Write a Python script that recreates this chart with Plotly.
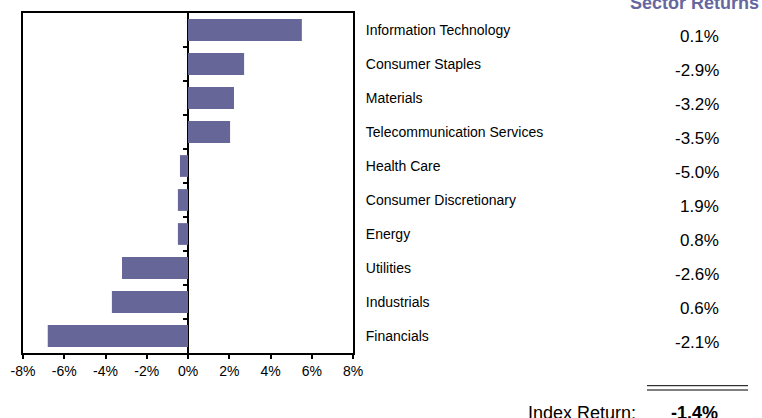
import plotly.graph_objects as go

sectors = ["Information Technology", "Consumer Staples", "Materials",
           "Telecommunication Services", "Health Care", "Consumer Discretionary",
           "Energy", "Utilities", "Industrials", "Financials"]
bar_values = [5.52, 2.72, 2.23, 2.04, -0.39, -0.49, -0.49, -3.2, -3.69, -6.8]
sector_returns = ["0.1%", "-2.9%", "-3.2%", "-3.5%", "-5.0%", "1.9%", "0.8%", "-2.6%", "0.6%", "-2.1%"]
x_ticks = [-8, -6, -4, -2, 0, 2, 4, 6, 8]
x_tick_labels = ["-8%", "-6%", "-4%", "-2%", "0%", "2%", "4%", "6%", "8%"]
index_return = "-1.4%"

pos = list(range(len(sectors)))
boundaries = [p + 0.5 for p in pos[:-1]]

W, H = 762, 418
ML, MR, MT, MB = 23, 409, 13, 65
PW, PH = W - ML - MR, H - MT - MB


def px(x):
    return (x - ML) / PW


def py(y):
    return (H - MB - y) / PH


FONT = "Liberation Sans, Arial, sans-serif"
BAR = "#666699"

fig = go.Figure()
fig.add_trace(go.Bar(x=bar_values, y=pos, orientation="h", width=0.64,
                     marker=dict(color=BAR, line=dict(width=0)),
                     hoverinfo="skip", showlegend=False))
fig.add_trace(go.Scatter(x=[0] * len(boundaries), y=boundaries, yaxis="y2",
                         mode="markers", marker=dict(opacity=0),
                         hoverinfo="skip", showlegend=False))

for p, r in zip(pos, sector_returns):
    fig.add_annotation(x=px(721), xref="paper", y=p, yref="y", text=r,
                       showarrow=False, xanchor="right", yanchor="middle",
                       yshift=-6, font=dict(family=FONT, size=17, color="black"))

fig.add_annotation(x=px(628), xref="paper", y=py(3), yref="paper",
                   text="<b>Sector Returns</b>", showarrow=False,
                   xanchor="left", yanchor="middle",
                   font=dict(family=FONT, size=18, color="#6666a0"))
fig.add_annotation(x=px(638), xref="paper", y=py(413), yref="paper",
                   text="Index Return:", showarrow=False,
                   xanchor="right", yanchor="middle",
                   font=dict(family=FONT, size=18, color="black"))
fig.add_annotation(x=px(720), xref="paper", y=py(413), yref="paper",
                   text="<b>" + index_return + "</b>", showarrow=False,
                   xanchor="right", yanchor="middle",
                   font=dict(family=FONT, size=18, color="black"))

for yy in (385.7, 390):
    fig.add_shape(type="line", xref="paper", yref="paper",
                  x0=px(647), x1=px(748), y0=py(yy), y1=py(yy),
                  line=dict(color="black", width=1))

fig.update_layout(
    width=W, height=H,
    margin=dict(l=ML, r=MR, t=MT, b=MB, autoexpand=False),
    paper_bgcolor="white", plot_bgcolor="white",
    font=dict(family=FONT, size=14, color="black"),
    xaxis=dict(range=[-8, 8], tickvals=x_ticks, ticktext=x_tick_labels,
               ticks="outside", ticklen=4, tickwidth=1.5, tickcolor="black",
               showline=True, linecolor="black", linewidth=2, mirror=True,
               showgrid=False, zeroline=True, zerolinecolor="black", zerolinewidth=2,
               tickfont=dict(size=14), fixedrange=True),
    yaxis=dict(range=[9.5, -0.5], tickvals=pos, ticktext=sectors, side="right",
               ticks="", showline=True, linecolor="black", linewidth=2, mirror=True,
               showgrid=False, zeroline=False, ticklabelstandoff=8,
               tickfont=dict(size=14), fixedrange=True),
    yaxis2=dict(range=[9.5, -0.5], overlaying="y", anchor="free", position=0.5,
                side="left", tickvals=boundaries, showticklabels=False,
                ticks="outside", ticklen=5, tickwidth=1.5, tickcolor="black",
                showline=False, showgrid=False, zeroline=False, fixedrange=True),
)

fig.write_html("out.html", config={"displayModeBar": False},
               post_script="document.body.style.margin='0';")
